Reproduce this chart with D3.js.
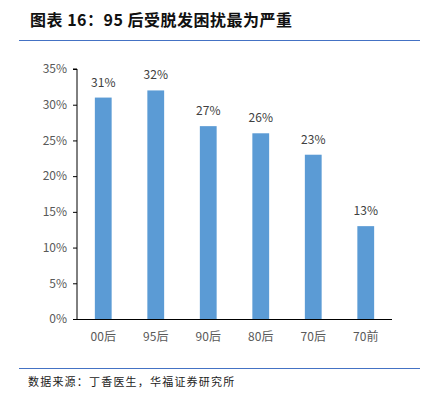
<!DOCTYPE html>
<html>
<head>
<meta charset="utf-8">
<script src="https://cdn.jsdelivr.net/npm/d3@7"></script>
<style>
  body { margin: 0; background: #fff; }
  svg { display: block; font-family: "Noto Sans CJK SC", "Noto Sans", sans-serif; }
</style>
</head>
<body>
<svg id="chart" width="426" height="397"></svg>
<script>
// data
var categories = ["00后", "95后", "90后", "80后", "70后", "70前"];
var values = [31, 32, 27, 26, 23, 13];
var yTicks = [0, 5, 10, 15, 20, 25, 30, 35];

var svg = d3.select("#chart"),
    margin = {top: 69, right: 34, bottom: 78, left: 77},
    width = 426,
    height = 397;

// title and rules
svg.append("text")
   .attr("x", 30)
   .attr("y", 26)
   .attr("font-size", 16)
   .attr("font-weight", "bold")
   .attr("letter-spacing", 0.5)
   .attr("fill", "#111")
   .text("图表 16：95 后受脱发困扰最为严重");

svg.append("line")
   .attr("x1", 19).attr("x2", 420)
   .attr("y1", 40.5).attr("y2", 40.5)
   .attr("stroke", "#4472c4").attr("stroke-width", 1);

svg.append("line")
   .attr("x1", 19).attr("x2", 420)
   .attr("y1", 368.5).attr("y2", 368.5)
   .attr("stroke", "#4472c4").attr("stroke-width", 1);

// source note
svg.append("text")
   .attr("x", 28)
   .attr("y", 386)
   .attr("font-size", 11)
   .attr("letter-spacing", 1.2)
   .attr("fill", "#222")
   .text("数据来源：丁香医生，华福证券研究所");

// scales
var x_scale = d3.scaleBand()
    .domain(categories)
    .range([margin.left, width - margin.right])
    .paddingInner(0.68)
    .paddingOuter(0.34);

var y_scale = d3.scaleLinear()
    .domain([0, 35])
    .range([height - margin.bottom, margin.top]);

// bars
svg.selectAll(".bar")
   .data(values)
   .enter()
   .append("rect")
   .attr("class", "bar")
   .attr("x", function(d, i) { return x_scale(categories[i]); })
   .attr("y", function(d) { return y_scale(d); })
   .attr("width", x_scale.bandwidth())
   .attr("height", function(d) { return y_scale(0) - y_scale(d); })
   .attr("fill", "#5b9bd5");

// value labels
svg.selectAll(".label")
   .data(values)
   .enter()
   .append("text")
   .attr("class", "label")
   .attr("x", function(d, i) { return x_scale(categories[i]) + x_scale.bandwidth() / 2; })
   .attr("y", function(d) { return y_scale(d) - 11; })
   .attr("text-anchor", "middle")
   .attr("font-size", 12)
   .attr("fill", "#404040")
   .text(function(d) { return d + "%"; });

// y axis
var y_axis = d3.axisLeft(y_scale)
    .tickValues(yTicks)
    .tickSize(4)
    .tickFormat(function(d) { return d + "%"; });

var gy = svg.append("g")
   .attr("transform", "translate(" + margin.left + ",0)")
   .call(y_axis);
gy.select(".domain").attr("stroke", "#000").attr("d", "M-4," + y_scale(35) + "H0V" + y_scale(0));
gy.selectAll(".tick line").attr("stroke", "#000");
gy.selectAll(".tick text")
  .attr("font-size", 12)
  .attr("fill", "#595959")
  .attr("x", -10)
  .attr("font-family", "Noto Sans CJK SC, Noto Sans, sans-serif");

// x axis
var x_axis = d3.axisBottom(x_scale).tickSize(0);
var gx = svg.append("g")
   .attr("transform", "translate(0," + y_scale(0) + ")")
   .call(x_axis);
gx.select(".domain").attr("stroke", "#000").attr("d", "M" + margin.left + ",0.5H" + (width - margin.right));
gx.selectAll(".tick text")
  .attr("font-size", 12)
  .attr("fill", "#595959")
  .attr("dy", "1.55em")
  .attr("font-family", "Noto Sans CJK SC, Noto Sans, sans-serif");
</script>
</body>
</html>
